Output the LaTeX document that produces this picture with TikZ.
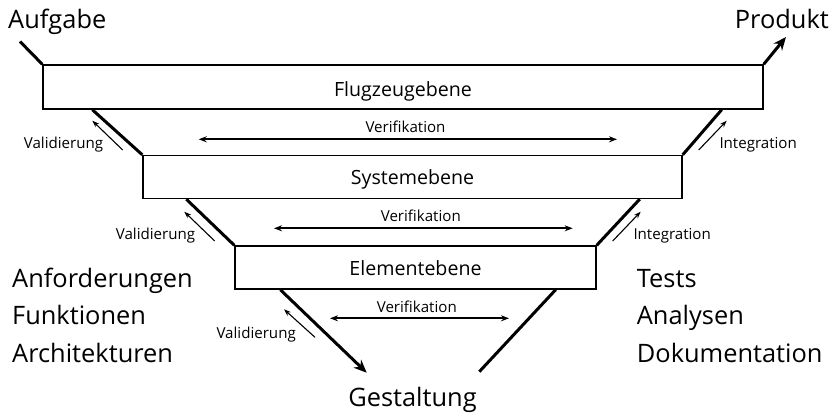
\documentclass[tikz,border=0pt]{standalone}
\usepackage{fontspec}
\setmainfont{Open Sans}
\usetikzlibrary{arrows.meta,calc}
\begin{document}
\begin{tikzpicture}[x=1pt,y=-1pt,
  level/.style={draw,line width=1.4pt,rectangle,inner sep=0pt,minimum height=44pt,font=\fontsize{19.6}{22}\selectfont},
  big/.style={inner sep=0pt,font=\fontsize{25.4}{30}\selectfont},
  small/.style={inner sep=0pt,font=\fontsize{15.1}{18}\selectfont},
  thickline/.style={line width=3pt},
  thinarrow/.style={line width=1.1pt,-{Stealth[length=7pt,width=5pt]}},
  verarrow/.style={line width=1.6pt,{Stealth[length=8pt,width=6pt]}-{Stealth[length=8pt,width=6pt]}},
  bigarrow/.style={line width=3pt,-{Stealth[length=13pt,width=11pt]}}]
\path[use as bounding box] (0,0) rectangle (836,414);

% levels
\node[level,minimum width=720pt,text height=24pt,text depth=4.6pt] (b1) at (403,87) {Flugzeugebene};
\node[level,minimum width=539pt,minimum height=43pt,text height=20pt,text depth=5.4pt] (b2) at (412.5,177) {Systemebene};
\node[level,minimum width=361pt,minimum height=43pt,text height=20pt,text depth=3.6pt] (b3) at (415.5,267.5) {Elementebene};

% outer texts
\node[big,anchor=base west] (auf) at (8,29) {Aufgabe};
\node[big,anchor=base east] (prod) at (829,29) {Produkt};
\node[big,anchor=base] (gest) at (412.5,406.7) {Gestaltung};
\node[big,anchor=base west] (l1) at (12,287.7) {Anforderungen};
\node[big,anchor=base west] (l2) at (12,325) {Funktionen};
\node[big,anchor=base west] (l3) at (12,362.7) {Architekturen};
\node[big,anchor=base west] (r1) at (636.7,287.7) {Tests};
\node[big,anchor=base west] (r2) at (636.7,325) {Analysen};
\node[big,anchor=base west] (r3) at (636.7,362.7) {Dokumentation};

% frame lines
\coordinate (aufend) at (20,41.5);
\coordinate (prodend) at (786,37);
\draw[thickline] (aufend) -- (b1.north west);
\draw[bigarrow] (b1.north east) -- (prodend);
\draw[thickline] ([xshift=50pt]b1.south west) -- (b2.north west);
\draw[thickline] ([xshift=-42pt]b1.south east) -- (b2.north east);
\draw[thickline] ([xshift=44pt]b2.south west) -- (b3.north west);
\draw[thickline] ([xshift=-43pt]b2.south east) -- (b3.north east);
\coordinate (gl) at (366.7,372.7);
\coordinate (gr) at (479.3,371.7);
\draw[bigarrow] ([xshift=46pt]b3.south west) -- (gl);
\draw[thickline] ([xshift=-41pt]b3.south east) -- (gr);

% verification
\coordinate (v1a) at (198.7,139.3); \coordinate (v1b) at (617,139.3);
\coordinate (v2a) at (274,228.3); \coordinate (v2b) at (572.7,228.3);
\coordinate (v3a) at (330,318.3); \coordinate (v3b) at (509,318.3);
\draw[verarrow] (v1a) -- (v1b);
\draw[verarrow] (v2a) -- (v2b);
\draw[verarrow] (v3a) -- (v3b);
\node[small,anchor=base] (vt1) at (405.5,132.3) {Verifikation};
\node[small,anchor=base] (vt2) at (420.8,221.7) {Verifikation};
\node[small,anchor=base] (vt3) at (416.8,312.7) {Verifikation};

% validation
\coordinate (va1a) at (122.7,150); \coordinate (va1b) at (92.3,120.7);
\coordinate (va2a) at (214.7,241); \coordinate (va2b) at (184.3,211.7);
\coordinate (va3a) at (315,337.3); \coordinate (va3b) at (284,309.3);
\draw[thinarrow] (va1a) -- (va1b);
\draw[thinarrow] (va2a) -- (va2b);
\draw[thinarrow] (va3a) -- (va3b);
\node[small,anchor=base east] (vl1) at (103.3,148.3) {Validierung};
\node[small,anchor=base east] (vl2) at (195.3,239.3) {Validierung};
\node[small,anchor=base east] (vl3) at (296,338.3) {Validierung};

% integration
\coordinate (i1a) at (698.7,150); \coordinate (i1b) at (726.7,120.7);
\coordinate (i2a) at (612.7,241); \coordinate (i2b) at (640.7,211.7);
\draw[thinarrow] (i1a) -- (i1b);
\draw[thinarrow] (i2a) -- (i2b);
\node[small,anchor=base west] (it1) at (719.3,149) {Integration};
\node[small,anchor=base west] (it2) at (633.3,240) {Integration};
\end{tikzpicture}
\end{document}
